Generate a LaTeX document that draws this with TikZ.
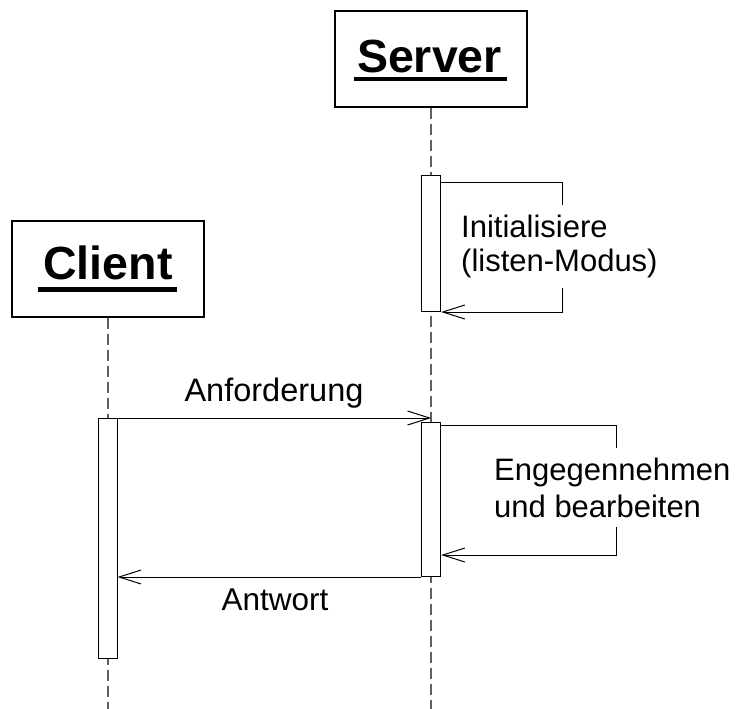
\documentclass[tikz,border=0pt]{standalone}
\usepackage{fontspec}
\setmainfont{Liberation Sans}
\usetikzlibrary{arrows.meta}
\definecolor{lifegray}{RGB}{95,95,95}
\begin{document}
\begin{tikzpicture}[x=1pt,y=-1pt,
  objbox/.style={draw, line width=1.3pt, minimum width=192pt, minimum height=96pt, inner sep=0pt},
  objtext/.style={font=\fontsize{46.5}{50}\selectfont\bfseries, inner sep=0pt, anchor=base},
  uline/.style={line width=4.2pt},
  lifeline/.style={draw=lifegray, line width=1.4pt, dash pattern=on 11pt off 5pt},
  actbar/.style={draw, fill=white, line width=1pt, minimum width=19pt, inner sep=0pt, anchor=north},
  msg/.style={draw, line width=1pt, -{Straight Barb[length=22pt,width=14pt,line width=1pt]}},
  msglabel/.style={font=\fontsize{31.5}{34}\selectfont, inner sep=0pt, anchor=base},
  selflabel/.style={fill=white, inner xsep=2pt, inner ysep=10pt, anchor=north west, align=left}
]
\useasboundingbox (0,0) rectangle (739,709);

% object boxes
\node[objbox] (sbox) at (431,59) {};
\node[objbox] (cbox) at (108,269) {};
\node[objtext] (stext) at (429.5,72.7) {Server};
\node[objtext] (ctext) at (108,279) {Client};
\draw[uline] ([xshift=-3pt,yshift=-6pt]stext.base west) -- ([xshift=5pt,yshift=-6pt]stext.base east);
\draw[uline] ([xshift=-5pt,yshift=-10.5pt]ctext.base west) -- ([xshift=4pt,yshift=-10.5pt]ctext.base east);

% lifelines
\coordinate (send) at (431,709);
\coordinate (cend) at (108,709);
\draw[lifeline] (sbox.south) -- (send);
\draw[lifeline] (cbox.south) -- (cend);

% activation bars
\node[actbar, minimum height=136pt] (sbar1) at (431.2,175) {};
\node[actbar, minimum height=154.3pt] (sbar2) at (431.2,421.7) {};
\node[actbar, minimum height=240pt] (cbar) at (107.5,418) {};

% messages
\draw[msg] ([yshift=-7.7pt]sbar1.north east) -- ++(121,0) |- (sbar1.south east);
\draw[msg] ([yshift=-3.3pt]sbar2.north east) -- ++(175,0) |- ([yshift=22pt]sbar2.south east);
\draw[msg] (cbar.north east) -- (sbar2.north |- cbar.north east);
\draw[msg] (sbar2.south west) -- (cbar.east |- sbar2.south west);

% labels
\node[msglabel, font=\fontsize{32.5}{34}\selectfont] (lreq) at (274,401.7) {Anforderung};
\node[msglabel] (lresp) at (275,610) {Antwort};
\node[msglabel, selflabel, font=\fontsize{31}{33.5}\selectfont] (linit) at (459,205) {Initialisiere\\(listen-Modus)};
\node[msglabel, selflabel, font=\fontsize{31}{36.5}\selectfont] (lproc) at (492,448) {Engegennehmen\\und bearbeiten};
\end{tikzpicture}
\end{document}
